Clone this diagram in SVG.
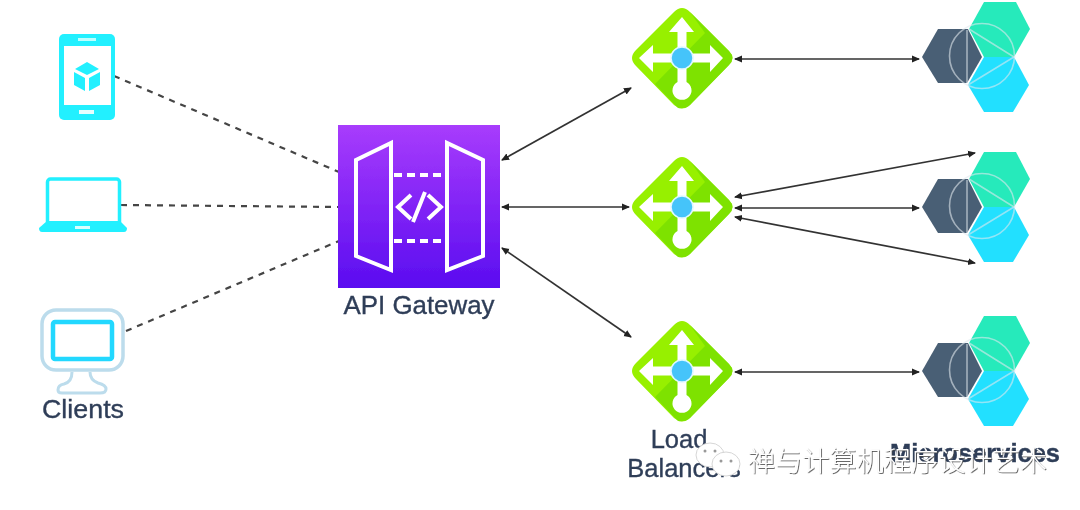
<svg xmlns="http://www.w3.org/2000/svg" width="1080" height="510" viewBox="0 0 1080 510">
<style>
.lbl{font-family:"Liberation Sans",Arial,sans-serif;font-size:25.5px;fill:#2f3e58;stroke:#2f3e58;stroke-width:.35;text-anchor:middle}
.dash{fill:none;stroke:#444;stroke-width:2.2;stroke-dasharray:6 6}
.conn{fill:none;stroke:#333;stroke-width:1.7;marker-start:url(#ah);marker-end:url(#ah)}
.wht{fill:none;stroke:#fff;stroke-width:4}
.hl{fill:none;stroke:#dfe8ee;stroke-opacity:.6;stroke-width:1.6}
.wm{font-family:"Noto Sans CJK SC","Noto Sans",sans-serif;font-size:27px;font-weight:300;fill:#fff;letter-spacing:.2px;filter:url(#sh)}
</style>
<defs>
<filter id="b" x="-5%" y="-5%" width="110%" height="110%"><feGaussianBlur stdDeviation="0.7"/></filter>
<filter id="sh" x="-5%" y="-20%" width="110%" height="140%"><feDropShadow dx="0.8" dy="0.8" stdDeviation="0.5" flood-color="#444"/></filter>
<marker id="ah" markerWidth="9" markerHeight="8" refX="7" refY="4" orient="auto-start-reverse" markerUnits="userSpaceOnUse"><path d="M0 0.5L8 4L0 7.5Z" fill="#222"/></marker>
<linearGradient id="gw" x1="0" y1="0" x2="0" y2="1"><stop offset="0" stop-color="#a83cfc"/><stop offset="1" stop-color="#5a0cf0"/></linearGradient>
<g id="lb">
<path d="M682 8Q686 8 690 12L729 51Q736 58 729 65L690 105Q682 112 674 105L636 66Q628 58 636 50L674 12Q678 8 682 8Z" fill="#97f000"/>
<path d="M690 12L729 51Q736 58 729 65L690 105Q686 109 678 108L655 84L705 33Z" fill="#78df00" opacity=".8"/>
<path d="M682 17L694 32H686.500V53.500H710V45L723 58L710 72V62.500H686.500V82A9.500 9.500 0 1 1 677.500 82V62.500H653V72L639 58L653 45V53.500H677.500V32H669Z" fill="#fff"/>
<circle cx="682" cy="58" r="11" fill="#45c4fa" stroke="#e0f8ff" stroke-width="1.500"/>
</g>
<g id="ms">
<path d="M984 2H1016L1030 29L1014 57H984L969 29Z" fill="#26eabb"/>
<path d="M984 57H1014L1029 85L1013 112H984L968 85Z" fill="#22e0ff"/>
<path d="M938 29H968L982 57L967 83H938L922 57Z" fill="#4a5f74"/>
<circle class="hl" cx="982" cy="56" r="32.500"/>
<path class="hl" d="M969 29L1014 57L968 85"/>
<path class="hl" stroke-width="2.200" d="M967 30V83"/>
</g>
</defs>
<rect width="1080" height="510" fill="#fff"/>
<g filter="url(#b)">
<g id="connectors">
<path class="dash" d="M114 76L339 172"/>
<path class="dash" d="M121 205L339 207"/>
<path class="dash" d="M126 331L339 241"/>
<path class="conn" d="M502 160L631 88"/>
<path class="conn" d="M502 207L629 207"/>
<path class="conn" d="M502 248L631 337"/>
<path class="conn" d="M735 59L919 59"/>
<path class="conn" d="M735 197L975 153"/>
<path class="conn" d="M735 208L919 208"/>
<path class="conn" d="M735 217L975 263"/>
<path class="conn" d="M735 372L919 372"/>
</g>
<g id="phone">
<rect x="59" y="34" width="56" height="86" rx="5" fill="#22f0ff"/>
<rect x="64" y="46" width="47" height="59" fill="#fff"/>
<rect x="78" y="38" width="18" height="3" fill="#bff"/>
<rect x="79" y="110" width="15" height="4" fill="#e6ffff"/>
<path d="M87 62L99 69L87 75L75 69ZM74 72L85 78V91L74 85ZM100 72V85L89 91V78Z" fill="#22f0ff"/>
</g>
<g id="laptop">
<rect x="47.500" y="179" width="72" height="46" rx="3" fill="#fff" stroke="#22f0ff" stroke-width="3.500"/>
<path d="M47 221H120L127 228Q127 232 124 232H42Q39 232 39 228Z" fill="#22f0ff"/>
<rect x="75" y="226" width="15" height="3" fill="#d8ffff"/>
</g>
<g id="desktop">
<rect x="42" y="310" width="81" height="60" rx="14" fill="#fff" stroke="#bcdcec" stroke-width="3.500"/>
<rect x="53" y="322" width="59" height="37" rx="2" fill="#fff" stroke="#22d8ff" stroke-width="4.500"/>
<path d="M72 372Q72 382 64 384Q58 385 58 390Q58 393 62 393H100Q106 393 106 389Q106 385 98 383Q90 380 90 372" fill="#fff" stroke="#bcdcec" stroke-width="3"/>
<text class="lbl" x="83" y="418" textLength="82" lengthAdjust="spacingAndGlyphs">Clients</text>
</g>
<g id="gateway">
<rect x="338" y="125" width="162" height="163" fill="url(#gw)"/>
<path class="wht" d="M391 143V270L356 256V160Z"/>
<path class="wht" d="M447 143V270L483 256V160Z"/>
<path class="wht" stroke-dasharray="8 5" d="M394 175H445M394 241H445"/>
<path class="wht" d="M411 195L398 207L411 219M428 195L441 207L428 219M425 192L413 222"/>
<text class="lbl" x="419" y="314" textLength="151" lengthAdjust="spacingAndGlyphs">API Gateway</text>
</g>
<g id="lb1"><use href="#lb"/></g>
<g id="lb2"><use href="#lb" y="149"/></g>
<g id="lb3"><use href="#lb" y="313"/><text class="lbl" x="679" y="448">Load</text><text class="lbl" x="684" y="477">Balancers</text></g>
<g id="ms1"><use href="#ms"/></g>
<g id="ms2"><use href="#ms" y="150"/></g>
<g id="ms3"><use href="#ms" y="314"/><text class="lbl" x="975" y="462" font-weight="bold">Microservices</text></g>
</g>
<g id="watermark">
<ellipse cx="710" cy="455" rx="14" ry="12" fill="#fff" stroke="#ccc" stroke-width=".8"/>
<ellipse cx="726" cy="464" rx="14" ry="12" fill="#fff" stroke="#ccc" stroke-width=".8"/>
<circle cx="705" cy="451" r="1.500" fill="#999"/><circle cx="715" cy="451" r="1.500" fill="#999"/><circle cx="721" cy="461" r="1.500" fill="#999"/><circle cx="731" cy="461" r="1.500" fill="#999"/>
<text class="wm" x="748" y="471">禅与计算机程序设计艺术</text>
</g>
</svg>
